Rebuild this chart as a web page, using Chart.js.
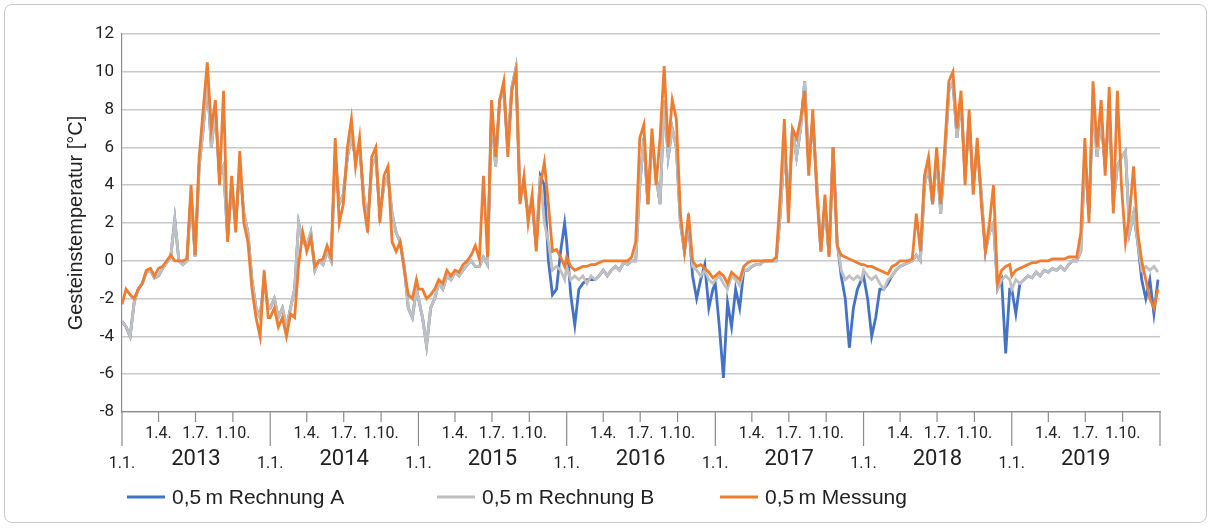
<!DOCTYPE html>
<html>
<head>
<meta charset="utf-8">
<script src="https://cdn.jsdelivr.net/npm/chart.js@4/dist/chart.umd.min.js"></script>
<style>
  html, body { margin: 0; padding: 0; background: #fff; }
  #wrap { position: relative; width: 1213px; height: 529px; }
  #frame { position: absolute; left: 4px; top: 4px; width: 1203px; height: 519px;
           border: 1.5px solid #c9c9c9; border-radius: 8px; box-sizing: border-box; }
</style>
</head>
<body>
<div id="wrap">
  <div id="frame"></div>
  <canvas id="chart" width="1213" height="529"></canvas>
</div>
<script>
// Geosteintemperatur in 0,5 m Tiefe, Werte alle 10 Tage ab 1.1. des Jahres
const years = [2013, 2014, 2015, 2016, 2017, 2018, 2019];
const stepDays = 10;
const quarterLabels = ['1.4.', '1.7.', '1.10.'];
const quarterDays = [90, 181, 273];
const yTicks = [12, 10, 8, 6, 4, 2, 0, -2, -4, -6, -8];

const messung = [
  [-2.3,-1.5,-1.8,-2.0,-1.5,-1.2,-0.5,-0.4,-0.8,-0.4,-0.3,0.0,0.3,0.0,0.0,0.0,0.1,4.0,0.3,5.5,8.0,10.5,7.0,8.5,4.0,9.0,1.0,4.5,1.5,5.8,2.0,1.0,-1.5,-3.0,-4.0,-0.5,-3.0],
  [-3.0,-2.5,-3.5,-3.0,-4.0,-2.8,-3.0,-0.2,1.5,0.5,1.2,-0.3,0.0,0.1,0.8,0.2,6.5,2.0,3.0,6.0,7.5,5.0,6.5,3.0,1.5,5.5,6.0,2.0,4.5,5.0,1.0,0.5,1.0,-0.5,-1.8,-2.0,-1.0],
  [-1.5,-1.5,-2.0,-1.8,-1.5,-1.0,-1.2,-0.5,-0.8,-0.5,-0.6,-0.2,0.0,0.3,0.8,0.1,4.5,0.2,8.5,5.5,8.5,9.5,5.5,9.0,10.0,3.0,4.5,2.0,3.5,0.5,4.0,5.2,3.0,0.5,0.6,0.2,-0.3],
  [0.2,-0.3,-0.5,-0.4,-0.3,-0.3,-0.2,-0.2,-0.1,0.0,0.0,0.0,0.0,0.0,0.0,0.0,0.2,1.0,6.5,7.2,3.0,7.0,4.0,6.5,10.3,6.0,8.5,7.5,2.5,0.5,2.5,0.0,-0.3,-0.2,-0.4,-0.6,-0.9],
  [-0.8,-0.6,-0.8,-1.2,-0.6,-0.8,-1.0,-0.3,-0.1,0.0,0.0,0.0,0.0,0.0,0.0,0.2,3.5,7.5,2.0,7.0,6.5,7.5,9.0,4.5,8.0,3.5,0.5,3.5,0.2,6.0,0.8,0.3,0.2,0.1,0.0,-0.1,-0.2],
  [-0.2,-0.3,-0.3,-0.4,-0.5,-0.6,-0.7,-0.3,-0.2,0.0,0.0,0.0,0.1,2.5,0.5,4.5,5.5,3.0,6.0,3.0,6.0,9.5,10.0,7.0,9.0,4.0,8.0,3.5,6.5,3.0,0.5,2.0,4.0,-1.2,-0.5,-0.3,-0.2],
  [-0.8,-0.5,-0.4,-0.3,-0.2,-0.1,-0.1,0.0,0.0,0.0,0.1,0.1,0.1,0.1,0.2,0.2,0.2,1.5,6.5,2.0,9.5,6.0,8.5,4.5,9.2,2.5,9.0,4.0,1.0,2.5,5.0,1.5,0.0,-1.0,-2.0,-2.5,-1.5]
];

const rechnungB = [
  [-3.2,-3.5,-4.0,-2.2,-1.5,-1.2,-0.6,-0.5,-0.9,-0.8,-0.4,-0.1,0.2,2.2,0.0,-0.2,0.0,3.5,0.2,5.0,7.0,9.5,6.0,8.0,4.5,5.0,1.2,4.0,2.0,5.0,2.5,1.5,-1.0,-2.5,-3.0,-1.0,-2.5],
  [-2.5,-2.0,-3.0,-2.5,-3.5,-2.5,-1.5,2.0,1.0,0.8,1.5,-0.5,0.0,-0.2,0.5,0.0,5.5,3.0,3.5,5.5,6.5,5.5,6.0,3.5,2.0,5.0,5.5,2.5,4.0,4.5,2.5,1.5,1.0,-0.3,-2.5,-3.0,-1.5],
  [-2.0,-3.0,-4.5,-2.5,-2.0,-1.2,-1.5,-0.8,-1.0,-0.6,-0.8,-0.5,-0.2,0.0,-0.3,-0.3,0.2,-0.2,8.0,5.0,8.5,9.0,6.0,9.2,10.2,3.5,4.0,2.5,3.0,0.8,4.5,2.0,1.0,-0.5,-0.3,-0.5,-1.0],
  [-0.3,-1.0,-0.8,-1.0,-0.8,-1.2,-0.8,-1.0,-0.8,-0.5,-0.8,-0.5,-0.3,-0.5,-0.1,-0.2,0.0,0.0,4.0,6.5,3.0,6.5,4.5,3.0,8.5,5.5,7.0,6.0,2.0,0.5,2.0,-0.3,-0.5,-0.8,-0.5,-1.0,-1.2],
  [-1.0,-0.8,-1.2,-1.5,-0.8,-1.0,-1.3,-0.5,-0.5,-0.3,-0.2,-0.2,0.0,0.0,0.0,0.0,2.5,6.0,3.0,7.0,5.5,7.0,9.5,5.0,7.5,4.0,0.5,3.0,0.3,6.0,1.0,-0.5,-1.0,-0.8,-1.0,-0.8,-1.0],
  [-0.5,-0.8,-1.0,-0.8,-1.2,-1.5,-1.0,-0.8,-0.5,-0.3,-0.2,-0.1,0.0,0.3,0.0,4.0,5.0,3.0,5.5,2.5,5.5,9.0,9.5,6.5,8.5,4.5,7.5,4.0,6.0,3.5,0.5,1.5,2.0,-1.5,-1.0,-0.8,-1.0],
  [-1.5,-1.0,-1.2,-1.0,-0.8,-0.9,-0.6,-0.8,-0.5,-0.6,-0.4,-0.5,-0.3,-0.5,-0.2,0.0,0.0,0.5,5.5,2.5,8.5,5.5,7.5,5.0,8.0,3.0,5.0,5.5,5.8,1.5,2.5,1.0,-0.5,-0.3,-0.5,-0.3,-0.6]
];

const rechnungA = [
  [-3.2,-3.5,-4.0,-2.2,-1.5,-1.2,-0.6,-0.5,-0.9,-0.8,-0.4,-0.1,0.2,2.2,0.0,-0.2,0.0,3.5,0.2,5.0,7.0,9.5,6.0,8.0,4.5,5.0,1.2,4.0,2.0,5.0,2.5,1.5,-1.0,-2.5,-3.0,-1.0,-2.5],
  [-2.5,-2.0,-3.0,-2.5,-3.5,-2.5,-1.5,2.0,1.0,0.8,1.5,-0.5,0.0,-0.2,0.5,0.0,5.5,3.0,3.5,5.5,6.5,5.5,6.0,3.5,2.0,5.0,5.5,2.5,4.0,4.5,2.5,1.5,1.0,-0.3,-2.5,-3.0,-1.5],
  [-2.0,-3.0,-4.5,-2.5,-2.0,-1.2,-1.5,-0.8,-1.0,-0.6,-0.8,-0.5,-0.2,0.0,-0.3,-0.3,0.2,-0.2,8.0,5.0,8.5,9.0,6.0,9.2,10.2,3.5,4.0,2.5,3.0,0.8,4.5,4.0,0.0,-1.8,-1.5,0.5,2.0],
  [1.0,-1.8,-3.4,-1.5,-1.2,-1.0,-1.0,-1.0,-0.8,-0.5,-0.8,-0.5,-0.3,-0.5,-0.1,-0.2,0.0,0.0,4.0,6.5,3.0,6.5,4.5,3.0,8.5,5.5,7.0,6.0,2.0,0.5,2.0,-0.8,-2.0,-1.0,-0.2,-2.5,-1.5],
  [-1.2,-3.5,-6.2,-2.2,-3.5,-1.5,-2.5,-0.5,-0.5,-0.3,-0.2,-0.2,0.0,0.0,0.0,0.0,2.5,6.0,3.0,7.0,5.5,7.0,9.5,5.0,7.5,4.0,0.5,3.0,0.3,6.0,1.0,-0.8,-2.0,-4.6,-2.5,-1.5,-1.0],
  [-0.8,-2.0,-4.0,-3.0,-1.5,-1.5,-1.2,-0.8,-0.5,-0.3,-0.2,-0.1,0.0,0.3,0.0,4.0,5.0,3.0,5.5,2.5,5.5,9.0,9.5,6.5,8.5,4.5,7.5,4.0,6.0,3.5,0.5,1.5,2.0,-1.5,-1.0,-4.9,-1.5],
  [-1.5,-2.8,-1.2,-1.0,-0.8,-0.9,-0.6,-0.8,-0.5,-0.6,-0.4,-0.5,-0.3,-0.5,-0.2,0.0,0.0,0.5,5.5,2.5,8.5,5.5,7.5,5.0,8.0,3.0,5.0,5.5,5.8,1.5,2.5,1.0,-1.0,-2.0,-1.0,-2.8,-1.0]
];

// Tage seit 1.1.2013 für den Jahresbeginn
const dayMs = 86400000;
const t0 = Date.UTC(years[0], 0, 1);
const yearStart = years.map(y => Math.round((Date.UTC(y, 0, 1) - t0) / dayMs));
const totalDays = Math.round((Date.UTC(years[years.length - 1] + 1, 0, 1) - t0) / dayMs);

function toPoints(series) {
    const pts = [];
    series.forEach((vals, yi) => {
        vals.forEach((v, j) => pts.push({ x: yearStart[yi] + j * stepDays, y: v }));
    });
    return pts;
}

const decorPlugin = {
    id: 'decor',
    afterDraw(c) {
        const ctx = c.ctx;
        const xs = c.scales.x;
        const area = c.chartArea;
        const base = area.bottom;
        ctx.save();
        ctx.strokeStyle = '#8c8c8c';
        ctx.lineWidth = 1.2;
        ctx.fillStyle = '#222';
        ctx.textBaseline = 'middle';
        years.forEach((y, i) => {
            const px = xs.getPixelForValue(yearStart[i]);
            ctx.beginPath(); ctx.moveTo(px, base); ctx.lineTo(px, base + 34); ctx.stroke();
            ctx.textAlign = 'center';
            ctx.font = '16px "Liberation Sans Narrow", Roboto, sans-serif';
            ctx.fillText('1.1.', px, base + 52);
            quarterDays.forEach((d, q) => {
                const qx = xs.getPixelForValue(yearStart[i] + d);
                ctx.beginPath(); ctx.moveTo(qx, base); ctx.lineTo(qx, base + 10); ctx.stroke();
                ctx.fillText(quarterLabels[q], qx, base + 22);
            });
            ctx.font = '22px "Liberation Sans Narrow", Roboto, sans-serif';
            ctx.fillText(String(y), xs.getPixelForValue(yearStart[i] + 182), base + 47);
        });
        const endX = xs.getPixelForValue(totalDays);
        ctx.beginPath(); ctx.moveTo(endX, base); ctx.lineTo(endX, base + 34); ctx.stroke();

        // Achsentitel
        ctx.save();
        ctx.translate(76, (area.top + area.bottom) / 2);
        ctx.rotate(-Math.PI / 2);
        ctx.textAlign = 'center';
        ctx.font = '20px "Liberation Sans", Arial, sans-serif';
        ctx.fillText('Gesteinstemperatur [°C]', 0, 0);
        ctx.restore();

        // Legende
        const items = [
            { label: '0,5\u2009m Rechnung A', color: '#4472c4', x: 127 },
            { label: '0,5\u2009m Rechnung B', color: '#c0c0c0', x: 437 },
            { label: '0,5\u2009m Messung', color: '#ed7d31', x: 720 }
        ];
        ctx.font = '21px "Liberation Sans", Arial, sans-serif';
        ctx.textAlign = 'left';
        items.forEach(it => {
            ctx.strokeStyle = it.color;
            ctx.lineWidth = 3;
            ctx.beginPath(); ctx.moveTo(it.x, 497); ctx.lineTo(it.x + 38, 497); ctx.stroke();
            ctx.fillStyle = '#222';
            ctx.fillText(it.label, it.x + 45, 498);
        });
        ctx.restore();
    }
};

const lineStyle = { borderWidth: 2.8, pointRadius: 0, tension: 0, fill: false };

new Chart(document.getElementById('chart'), {
    type: 'line',
    data: {
        datasets: [
            { label: '0,5 m Messung', data: toPoints(messung), borderColor: '#ed7d31', order: 1, ...lineStyle },
            { label: '0,5 m Rechnung B', data: toPoints(rechnungB), borderColor: '#c0c0c0', order: 2, ...lineStyle },
            { label: '0,5 m Rechnung A', data: toPoints(rechnungA), borderColor: '#4472c4', order: 3, ...lineStyle }
        ]
    },
    options: {
        responsive: false,
        animation: false,
        layout: { padding: { left: 0, top: 34, right: 53, bottom: 0 } },
        plugins: { legend: { display: false }, tooltip: { enabled: false } },
        scales: {
            x: {
                type: 'linear', min: 0, max: totalDays,
                ticks: { display: false },
                grid: { display: false },
                border: { display: true, color: '#8c8c8c', width: 1.2 },
                afterFit: s => { s.height = 117; }
            },
            y: {
                min: -8, max: 12,
                ticks: {
                    stepSize: 1, color: '#222', padding: 8,
                    font: { size: 17, family: '"Liberation Sans Narrow", Roboto, sans-serif' },
                    callback: v => (yTicks.includes(v) ? String(v) : '')
                },
                grid: { color: '#c8c8c8', lineWidth: 1.5, drawTicks: false },
                border: { display: true, color: '#8c8c8c', width: 1.2 },
                afterFit: s => { s.width = 122; }
            }
        }
    },
    plugins: [decorPlugin]
});
</script>
</body>
</html>
